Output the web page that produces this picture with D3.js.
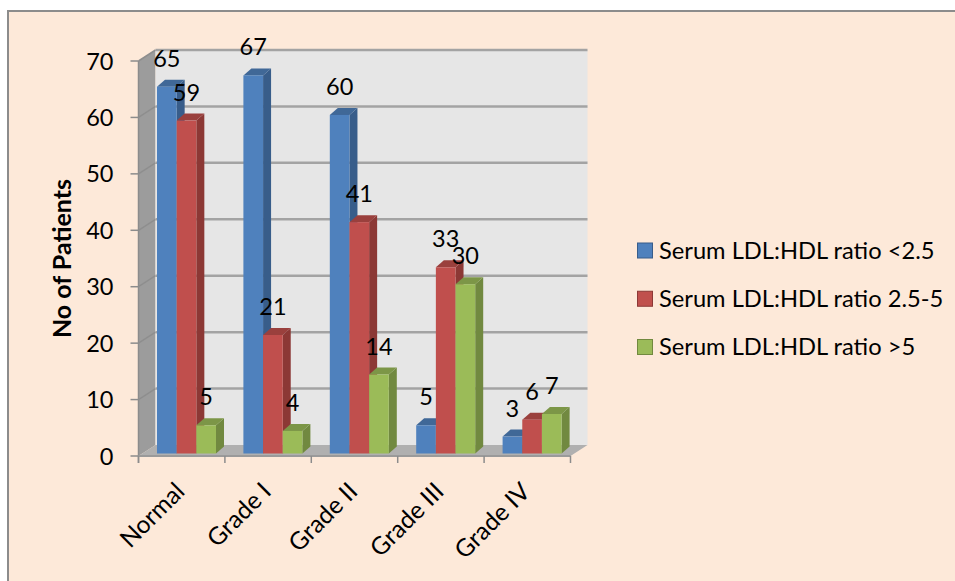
<!DOCTYPE html>
<html><head><meta charset="utf-8">
<script src="https://cdn.jsdelivr.net/npm/d3@7"></script>
<style>html,body{margin:0;padding:0;background:#fff}svg{display:block}text{font-family:Lato,sans-serif;fill:#000}</style>
</head><body><svg id="c" width="955" height="581"></svg>
<script>
const categories=["Normal","Grade I","Grade II","Grade III","Grade IV"];
const seriesNames=["Serum LDL:HDL ratio <2.5","Serum LDL:HDL ratio 2.5-5","Serum LDL:HDL ratio >5"];
const lowRatio=[65,67,60,5,3];
const midRatio=[59,21,41,33,6];
const highRatio=[5,4,14,30,7];
const yTicks=[0,10,20,30,40,50,60,70];
const front=["#4f81bd","#c0504d","#9bbb59"], side=["#385d8a","#8c3836","#71893f"], top_=["#3f6797","#9a403e","#7c9647"];
const svg=d3.select("#c");
svg.append("rect").attr("x",8).attr("y",11).attr("width",960).attr("height",600).attr("fill","#fde9d9").attr("stroke","#8c8c8c").attr("stroke-width",2);
const defs=svg.append("defs");
defs.append("filter").attr("id","soft").append("feGaussianBlur").attr("stdDeviation",0.45);
const dx=17,dy=11,bdx=8,bdy=7;
const y=d3.scaleLinear().domain([0,70]).range([456,61]);
const x=d3.scaleBand().domain(categories).range([138.5,570.5]);
const inner=d3.scaleBand().domain([0,1,2]).range([18.5,18.5+59]);
const X0=138.5,X1=570.5;
const line=d3.line();
const chart=svg.append("g").attr("filter","url(#soft)");
chart.append("path").attr("d",line([[X0,y(70)],[X0+dx,y(70)-dy],[X0+dx,y(0)-dy],[X0,y(0)]])+"Z").attr("fill","#9c9c9c");
chart.append("path").attr("d",line([[X0+dx,y(70)-dy],[X1+dx,y(70)-dy],[X1+dx,y(0)-dy],[X0+dx,y(0)-dy]])+"Z").attr("fill","#e6e6e6");
chart.append("path").attr("d",line([[X0,y(0)],[X0+dx,y(0)-dy],[X1+dx,y(0)-dy],[X1,y(0)]])+"Z").attr("fill","#b0b0b0");
yTicks.forEach(t=>{
  if(t>0){
    chart.append("path").attr("d",line([[X0,y(t)],[X0+dx,y(t)-dy]])).attr("fill","none").attr("stroke","#8e8e8e").attr("stroke-width",1.5);
    chart.append("path").attr("d",line([[X0+dx,y(t)-dy],[X1+dx,y(t)-dy]])).attr("fill","none").attr("stroke","#a3a3a3").attr("stroke-width",2.5);
  }
  chart.append("line").attr("x1",X0-8).attr("x2",X0).attr("y1",y(t)).attr("y2",y(t)).attr("stroke","#8c8c8c").attr("stroke-width",1.5);
  svg.append("text").attr("x",113.5).attr("y",y(t)+8.5).attr("text-anchor","end").attr("font-size",23.5).text(t);
});
chart.append("line").attr("x1",X0).attr("x2",X0).attr("y1",y(70)).attr("y2",y(0)+7).attr("stroke","#8c8c8c").attr("stroke-width",1.5);
chart.append("line").attr("x1",X0).attr("x2",X1).attr("y1",y(0)).attr("y2",y(0)).attr("stroke","#9a9a9a").attr("stroke-width",2);
d3.range(6).forEach(i=>{
  const px=X0+i*x.step();
  chart.append("line").attr("x1",px).attr("x2",px).attr("y1",y(0)).attr("y2",y(0)+7).attr("stroke","#8c8c8c").attr("stroke-width",1.5);
});
const series=[lowRatio,midRatio,highRatio];
const base=y(0)-2.5;
const h=v=>y(0)-y(v);
categories.forEach((c,ci)=>{
  [0,1,2].forEach(si=>{
    const v=series[si][ci], bx=x(c)+inner(si), w=inner.bandwidth(), ty=base-h(v);
    const g=chart.append("g");
    g.append("path").attr("d",line([[bx+w,ty],[bx+w+bdx,ty-bdy],[bx+w+bdx,base-bdy],[bx+w,base]])+"Z").attr("fill",side[si]);
    g.append("path").attr("d",line([[bx,ty],[bx+bdx,ty-bdy],[bx+w+bdx,ty-bdy],[bx+w,ty]])+"Z").attr("fill",top_[si]);
    g.append("rect").attr("x",bx).attr("y",ty).attr("width",w).attr("height",base-ty).attr("fill",front[si]);
  });
});
categories.forEach((c,ci)=>{
  [0,1,2].forEach(si=>{
    const v=series[si][ci], bx=x(c)+inner(si), w=inner.bandwidth(), ty=base-h(v);
    svg.append("text").attr("x",bx+w/2).attr("y",ty-20).attr("text-anchor","middle").attr("font-size",23.5).text(v);
  });
});
categories.forEach(c=>{
  const cx=x(c)+x.bandwidth()/2+4.5;
  svg.append("text").attr("transform",`translate(${cx},493) rotate(-45)`).attr("text-anchor","end").attr("font-size",24.5).text(c);
});
svg.append("text").attr("transform","translate(71,258.5) rotate(-90)").attr("text-anchor","middle").attr("font-size",25).attr("font-weight",700).text("No of Patients");
const ly=d3.scalePoint().domain(seriesNames).range([250.5,347]);
seriesNames.forEach((n,i)=>{
  svg.append("rect").attr("x",637.5).attr("y",ly(n)-7.5).attr("width",15).attr("height",15).attr("fill",front[i]).attr("stroke",side[i]);
  svg.append("text").attr("x",659).attr("y",ly(n)+8).attr("font-size",23.7).text(n);
});
</script></body></html>
